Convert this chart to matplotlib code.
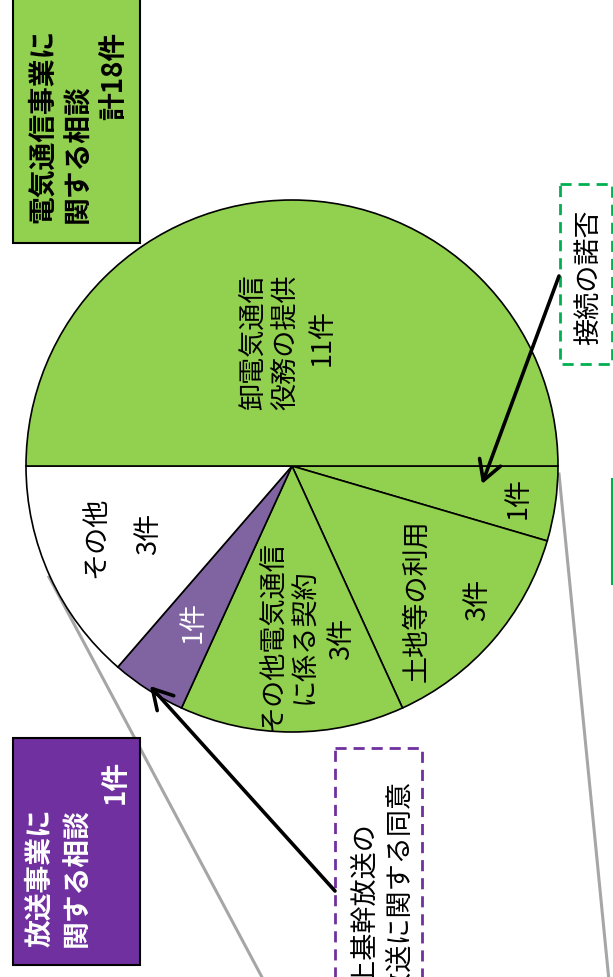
import matplotlib.pyplot as plt
from matplotlib.patches import Rectangle

plt.rcParams['font.family'] = ['Noto Sans CJK JP', 'DejaVu Sans']

# slices, clockwise from the right-hand horizontal radius
topics = ['接続の諾否', '土地等の利用', 'その他電気通信に係る契約',
          '地上基幹放送の再放送に関する同意', 'その他', '卸電気通信役務の提供']
counts = [1, 3, 3, 1, 3, 11]
business = ['telecom', 'telecom', 'telecom', 'broadcast', 'other', 'telecom']

GREEN = '#92D050'
PURPLE_SLICE = '#8064A2'
PURPLE = '#7030A0'
colors = {'telecom': GREEN, 'broadcast': PURPLE_SLICE, 'other': 'white'}

telecom_total = sum(c for c, b in zip(counts, business) if b == 'telecom')
broadcast_total = sum(c for c, b in zip(counts, business) if b == 'broadcast')

fig = plt.figure(figsize=(6.13, 9.78), dpi=100)
ax = fig.add_axes([0, 0, 1, 1])

# pie (y axis is inverted, so counterclock in data = clockwise on screen)
ax.pie(counts, colors=[colors[b] for b in business], startangle=0,
       counterclock=True, center=(292, 467), radius=266, frame=True,
       wedgeprops=dict(edgecolor='black', linewidth=1.2))

ax.set_xlim(0, 613)
ax.set_ylim(978, 0)
ax.set_aspect('equal')
ax.axis('off')

# grey connector lines to the (cut off) detail chart
ax.plot([49, 264], [578, 982], color='#A6A6A6', lw=2.2, zorder=0)
ax.plot([559, 609], [475, 982], color='#A6A6A6', lw=2.2, zorder=0)
ax.plot([612, 612], [480, 585], color='#00B050', lw=1.5, zorder=0)


def vtext(x, y, s, size=19.5, va='center', **kw):
    ax.text(x, y, s, rotation=90, ha='center', va=va, fontsize=size, zorder=5, **kw)


# slice labels
vtext(253, 342, '卸電気通信')
vtext(287, 342, '役務の提供')
vtext(322, 337, f'{counts[5]}件')

vtext(96, 537, 'その他')
vtext(149, 534, f'{counts[4]}件')

vtext(193, 622, f'{counts[3]}件', color='white')

vtext(272, 636, 'その他電気通信')
vtext(305, 636, 'に係る契約')
vtext(342, 639, f'{counts[2]}件')

vtext(417, 601, '土地等の利用')
vtext(478, 600, f'{counts[1]}件')

vtext(518, 498, f'{counts[0]}件')

# summary boxes
ax.add_patch(Rectangle((13, -10), 127, 254, facecolor=GREEN, edgecolor='black', lw=1.5, zorder=3))
vtext(43, 223, '電気通信事業に', size=20, va='bottom', fontweight='bold')
vtext(78, 223, '関する相談', size=20, va='bottom', fontweight='bold')
vtext(114, 32, f'計{telecom_total}件', size=20, va='top', fontweight='bold')

ax.add_patch(Rectangle((13, 739), 127, 227, facecolor=PURPLE, edgecolor='black', lw=1.5, zorder=3))
vtext(40, 947, '放送事業に', size=20, va='bottom', fontweight='bold', color='white')
vtext(77, 947, '関する相談', size=20, va='bottom', fontweight='bold', color='white')
vtext(116, 760, f'{broadcast_total}件', size=20, va='top', fontweight='bold', color='white')

# callout boxes
ax.add_patch(Rectangle((560, 185), 52, 180, facecolor='none', edgecolor='#00B050',
                       lw=2, linestyle=(0, (4, 2.5)), zorder=3))
vtext(589, 277, topics[0])

ax.add_patch(Rectangle((335, 749), 87, 300, facecolor='none', edgecolor=PURPLE,
                       lw=2, linestyle=(0, (4, 2.5)), zorder=3))
vtext(365, 823, '地上基幹放送の', va='top')
vtext(400, 780, '再放送に関する同意', va='top')

# arrows from callouts to slices
arrow = dict(arrowstyle='->,head_length=0.7,head_width=0.4', lw=2.6,
             color='black', mutation_scale=20, shrinkA=0, shrinkB=0)
ax.annotate('', xy=(482, 485), xytext=(559, 277), arrowprops=arrow, zorder=6)
ax.annotate('', xy=(150, 687), xytext=(335, 892), arrowprops=arrow, zorder=6)

fig.savefig('out.png', dpi=100)
